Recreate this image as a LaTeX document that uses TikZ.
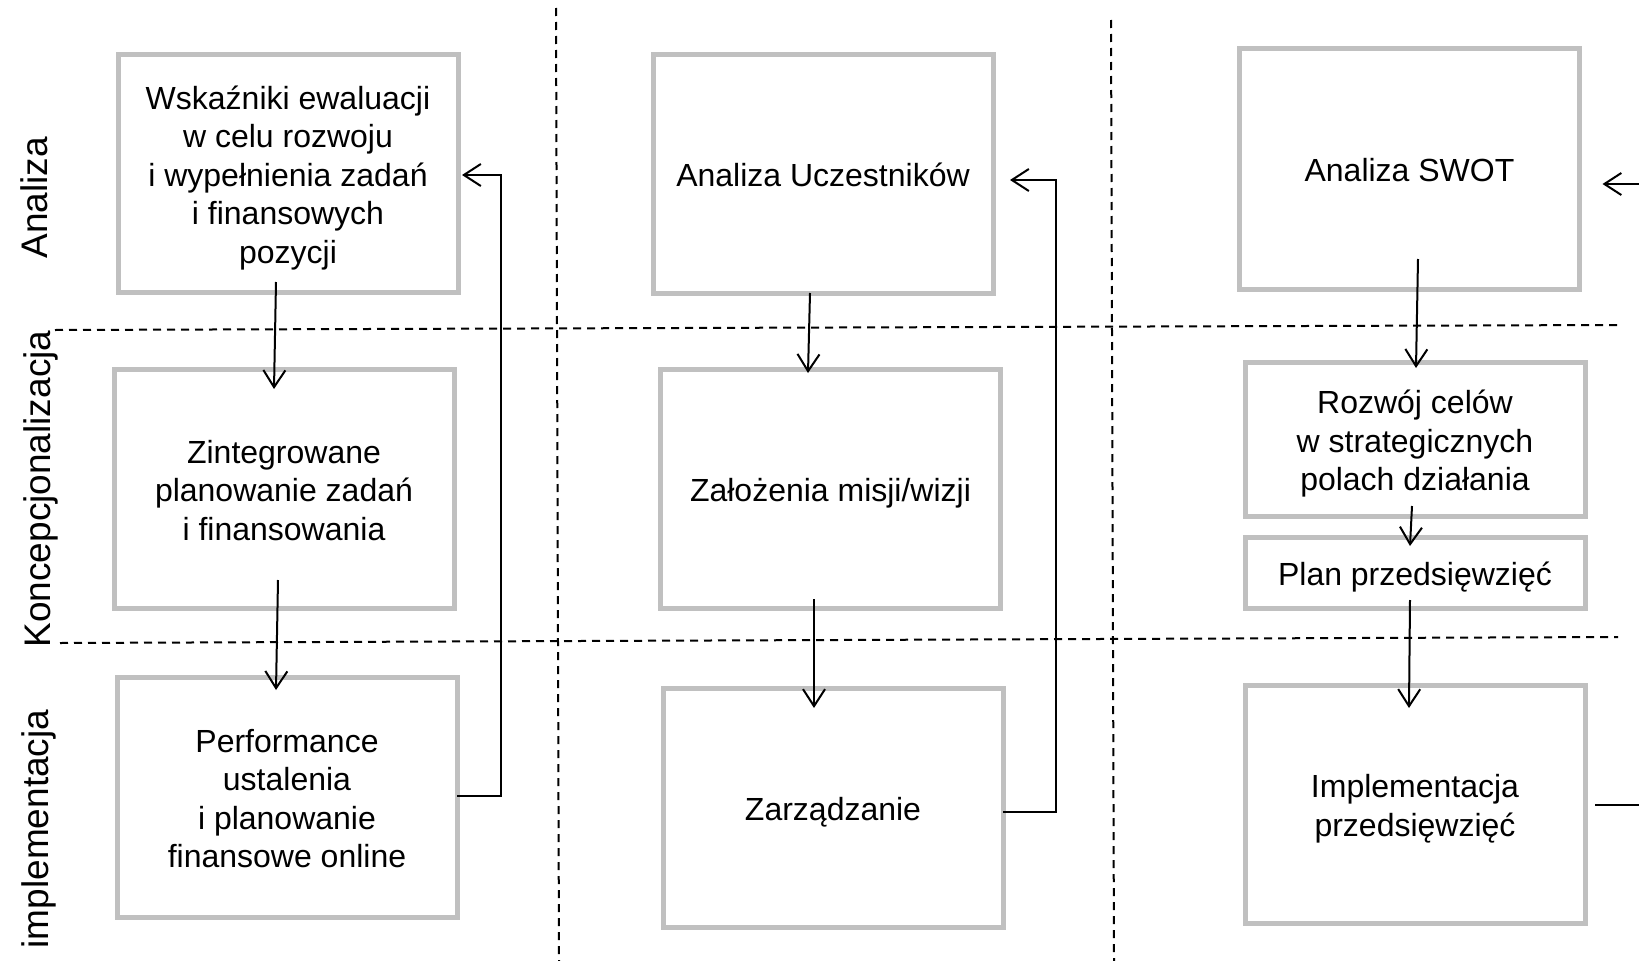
\documentclass[tikz,border=0pt]{standalone}
\usepackage{fontspec}
\setmainfont{Liberation Sans}
\usetikzlibrary{arrows.meta,calc}
\definecolor{boxgray}{RGB}{192,192,192}
% fixed first-line height, so every box text sits at the same level
\newcommand\capstrut{\vrule width 0pt height 33pt depth 0pt}

\begin{document}
\begin{tikzpicture}[x=1pt,y=-1pt,
  box/.style={draw=boxgray, line width=5pt, align=center, inner sep=0pt, outer sep=0pt,
              minimum width=340pt, font=\fontsize{32}{38.5}\selectfont,
              execute at end node={\vrule width 0pt height 0pt depth 6.8pt}},
  rowlabel/.style={rotate=90, anchor=base, inner sep=0pt, font=\fontsize{37}{44}\selectfont},
  arr/.style={-{Straight Barb[length=17pt,width=22pt]}, line width=2pt},
  link/.style={line width=2pt},
  sep/.style={line width=2pt, dash pattern=on 8pt off 6pt}]

\fill[white] (0,0) rectangle (1639,961);
\useasboundingbox (0,0) rectangle (1639,961);
\clip (0,0) rectangle (1639,961);

% phase separators
\draw[sep] (556,8) -- (559,961);
\draw[sep] (1111,20) -- (1114,961);
\draw[sep] (55,330) -- (1618,325);
\draw[sep] (60,643) -- (1618,637);

% phase labels
\node[rowlabel] (lab1) at (47,198) {Analiza};
\node[rowlabel] (lab2) at (50,489) {Koncepcjonalizacja};
\node[rowlabel] (lab3) at (48,829) {implementacja};

% first column
\node[box, minimum height=238pt] (b1) at (288,173)
  {\capstrut Wskaźniki ewaluacji\\w celu rozwoju\\i wypełnienia zadań\\i finansowych\\pozycji};
\node[box, minimum height=239pt] (b2) at (284,488.5)
  {\capstrut Zintegrowane\\planowanie zadań\\i finansowania};
\node[box, minimum height=240pt] (b3) at (287,797)
  {\capstrut Performance\\ustalenia\\i planowanie\\finansowe online};

% second column
\node[box, minimum height=239pt] (b4) at (823,173.5) {\capstrut Analiza Uczestników};
\node[box, minimum height=239pt] (b5) at (830.5,488.5) {\capstrut Założenia misji/wizji};
\node[box, minimum height=239pt] (b6) at (833,807.5) {\capstrut Zarządzanie};

% third column
\node[box, minimum height=241pt] (b7) at (1409.5,168.5) {\capstrut Analiza SWOT};
\node[box, minimum height=154pt] (b8) at (1415,439)
  {\capstrut Rozwój celów\\w strategicznych\\polach działania};
\node[box, minimum height=71pt] (b9) at (1415,572.5) {\capstrut Plan przedsięwzięć};
\node[box, minimum height=238pt] (b10) at (1415,804)
  {\capstrut Implementacja\\przedsięwzięć};

% downward flow
\draw[arr] ([shift={(-12,-10)}]b1.south) -- ([shift={(-10,20)}]b2.north);
\draw[arr] ([shift={(-6,-28)}]b2.south) -- ([shift={(-11,13)}]b3.north);
\draw[arr] ([shift={(-13,0)}]b4.south) -- ([shift={(-22.5,4)}]b5.north);
\draw[arr] ([shift={(-16.5,-9)}]b5.south) -- ([shift={(-19,20)}]b6.north);
\draw[arr] ([shift={(8.5,-30)}]b7.south) -- ([shift={(1,6)}]b8.north);
\draw[arr] ([shift={(-3,-10)}]b8.south) -- ([shift={(-5,9)}]b9.north);
\draw[arr] ([shift={(-5,-8)}]b9.south) -- ([shift={(-6,23)}]b10.north);

% feedback loops
\draw[arr] ([yshift=1]b3.east) -- ++(44,0) |- ([shift={(4,2)}]b1.east);
\draw[arr] ([yshift=-4.5]b6.east) -- ++(53,0) |- ([shift={(17,6.5)}]b4.east);
\coordinate (outA) at (1660,805);
\coordinate (outB) at (1660,184);
\draw[link] ([shift={(10,1)}]b10.east) -- (outA);
\draw[arr] (outB) -- ([shift={(23,15.5)}]b7.east);

\end{tikzpicture}
\end{document}
